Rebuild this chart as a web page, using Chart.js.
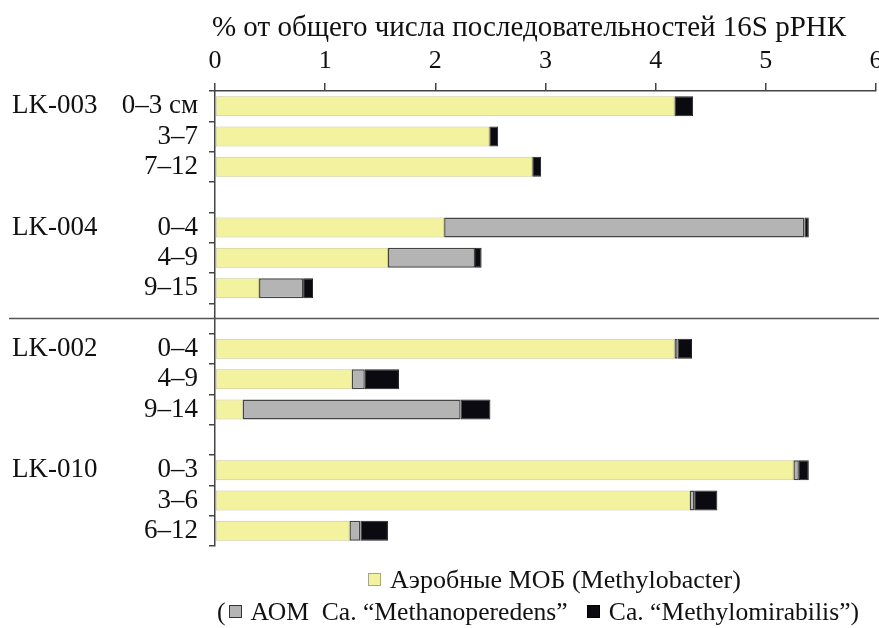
<!DOCTYPE html>
<html>
<head>
<meta charset="utf-8">
<script src="https://cdn.jsdelivr.net/npm/chart.js@4"></script>
<style>
    body { margin: 0; background: #fff; }
    .wrap { position: relative; width: 879px; height: 628px; overflow: hidden; }
    .legend { position: absolute; font-family: "Liberation Serif", serif; font-size: 26px; color: #111; white-space: nowrap; }
    .sq { display: inline-block; width: 13px; height: 13px; vertical-align: 2px; margin-right: 9px; box-sizing: border-box; }
</style>
</head>
<body>
<div class="wrap">
    <canvas id="chart"></canvas>
    <div class="legend" style="left: 368px; top: 565px;">
        <span class="sq" style="background:#f3f29e; border:1px solid #a8a880;"></span>Аэробные МОБ (Methylobacter)
    </div>
    <div class="legend" style="left: 217px; top: 597px; font-size: 25.6px;">
        (<span class="sq" style="background:#b4b4b4; border:1.5px solid #333; margin-left:3px;"></span>АОМ&nbsp; Ca. “Methanoperedens”&nbsp;&nbsp; <span class="sq" style="background:#0a0a10; border:1px solid #000;"></span>Ca. “Methylomirabilis”)
    </div>
</div>
<script>
// Rows (empty strings = gaps between cores)
const depths = ['0–3 см', '3–7', '7–12', '', '0–4', '4–9', '9–15', '', '0–4', '4–9', '9–14', '', '0–3', '3–6', '6–12'];
const groups = ['LK-003', 'LK-004', 'LK-002', 'LK-010'];
const groupRows = [0, 4, 8, 12];
const separatorRow = 7;

// % of 16S rRNA sequences
const aerobicMOB = [4.17, 2.49, 2.88, null, 2.08, 1.57, 0.40, null, 4.17, 1.24, 0.25, null, 5.25, 4.31, 1.22];
const methanoperedens = [0, 0, 0, null, 3.27, 0.79, 0.40, null, 0.03, 0.12, 1.98, null, 0.05, 0.04, 0.10];
const methylomirabilis = [0.17, 0.08, 0.08, null, 0.04, 0.06, 0.09, null, 0.13, 0.31, 0.27, null, 0.09, 0.21, 0.25];

const xTicks = [0, 1, 2, 3, 4, 5, 6];
const xTitle = '% от общего числа последовательностей 16S рРНК';

const serif = '"Liberation Serif", "Times New Roman", serif';

const extras = {
    id: 'extras',
    afterDraw(chart) {
        const { ctx } = chart;
        const y = chart.scales.y;
        ctx.save();
        ctx.fillStyle = '#111';
        ctx.textBaseline = 'middle';

        // axis title (sits a bit left of the plot centre in the original)
        ctx.font = '29px ' + serif;
        ctx.textAlign = 'center';
        ctx.fillText(xTitle, 529, 28);

        // core names
        ctx.font = '27px ' + serif;
        ctx.textAlign = 'left';
        groups.forEach((g, i) => {
            ctx.fillText(g, 12, y.getPixelForValue(groupRows[i]));
        });

        // separator between the two pairs of cores
        const sy = y.getPixelForValue(separatorRow);
        ctx.strokeStyle = '#555';
        ctx.lineWidth = 1.5;
        ctx.beginPath();
        ctx.moveTo(9, sy);
        ctx.lineTo(879, sy);
        ctx.stroke();
        ctx.restore();
    }
};

const ctx = document.getElementById('chart').getContext('2d');
new Chart(ctx, {
    type: 'bar',
    data: {
        labels: depths,
        datasets: [
            {
                label: 'Аэробные МОБ (Methylobacter)',
                data: aerobicMOB,
                backgroundColor: '#f3f29e',
                borderColor: '#c9c88e',
                borderWidth: 1,
                borderSkipped: false
            },
            {
                label: 'АОМ Ca. “Methanoperedens”',
                data: methanoperedens,
                backgroundColor: '#b4b4b4',
                borderColor: '#444',
                borderWidth: 1.5,
                borderSkipped: false
            },
            {
                label: 'Ca. “Methylomirabilis”',
                data: methylomirabilis,
                backgroundColor: '#0a0a10',
                borderColor: '#222',
                borderWidth: 1,
                borderSkipped: false
            }
        ]
    },
    options: {
        indexAxis: 'y',
        responsive: true,
        maintainAspectRatio: false,
        animation: false,
        layout: { padding: { bottom: 82, right: 3 } },
        datasets: { bar: { categoryPercentage: 1, barPercentage: 0.66 } },
        plugins: {
            legend: { display: false },
            tooltip: { enabled: false }
        },
        scales: {
            x: {
                position: 'top',
                stacked: true,
                min: 0,
                max: 6,
                afterFit: (s) => { s.height = 91; s.paddingRight = 0; s.paddingLeft = 0; },
                afterBuildTicks: (s) => { s.ticks = xTicks.map(v => ({ value: v })); },
                ticks: { color: '#111', font: { family: serif, size: 26 }, padding: 6 },
                grid: { drawOnChartArea: false, tickLength: 8, color: '#444', lineWidth: 1.5 },
                border: { color: '#444', width: 1.5 }
            },
            y: {
                stacked: true,
                afterFit: (s) => { s.width = 215; },
                ticks: { color: '#111', font: { family: serif, size: 27 }, padding: 11, autoSkip: false },
                grid: { offset: true, drawOnChartArea: false, tickLength: 6, color: '#444', lineWidth: 1.5 },
                border: { color: '#444', width: 1.5 }
            }
        }
    },
    plugins: [extras]
});
</script>
</body>
</html>
